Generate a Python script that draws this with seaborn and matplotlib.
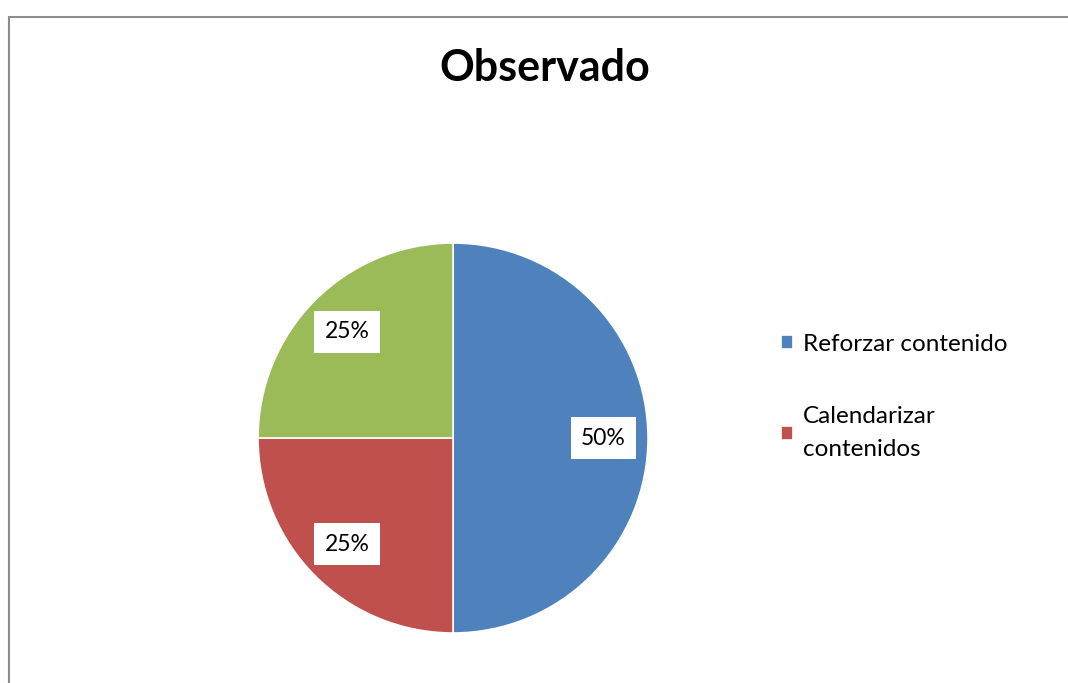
import matplotlib
matplotlib.use("Agg")
import matplotlib.pyplot as plt
from matplotlib.lines import Line2D
import seaborn as sns

sns.set_theme(style="white")
plt.rcParams['font.family'] = ['Lato', 'DejaVu Sans']
plt.rcParams['text.color'] = 'black'

# datos
valores = [50, 25, 25]
etiquetas_leyenda = ["Reforzar contenido", "Calendarizar\ncontenidos"]
colores = ["#4F81BD", "#C0504D", "#9BBB59"]

fig = plt.figure(figsize=(10.68, 6.83), dpi=100)

# marco gris del grafico
fig.add_artist(Line2D([8.5 / 1068, 1], [1 - 16.5 / 683, 1 - 16.5 / 683],
                      transform=fig.transFigure, color="#8c8c8c", lw=1.5))
fig.add_artist(Line2D([8.5 / 1068, 8.5 / 1068], [0, 1 - 16.5 / 683],
                      transform=fig.transFigure, color="#8c8c8c", lw=1.5))

ax = fig.add_axes([0.2416, 0.0732, 0.3652, 0.571])
wedges, texts, autotexts = ax.pie(
    valores, colors=colores, startangle=90, counterclock=False,
    autopct='%1.0f%%', pctdistance=0.77,
    wedgeprops={'edgecolor': 'white', 'linewidth': 1.2},
    textprops={'fontsize': 16.5, 'color': 'black'})
for t in autotexts:
    t.set_bbox(dict(facecolor='white', edgecolor='none', pad=7.5))
ax.set_aspect('equal')
ax.set_xlim(-1, 1)
ax.set_ylim(-1, 1)

fig.text(0.51, 1 - 68 / 683, "Observado", ha='center', va='center',
         fontsize=31, fontweight='bold', color='black')

leg = fig.legend(wedges[:2], etiquetas_leyenda, loc='upper left',
                 bbox_to_anchor=(0.711, 1 - 312 / 683), frameon=False,
                 fontsize=17.5, handlelength=0.5, handleheight=0.5,
                 handletextpad=0.4, labelspacing=2.1)
for t in leg.get_texts():
    t.set_linespacing(1.7)

fig.savefig("out.png", dpi=100)
